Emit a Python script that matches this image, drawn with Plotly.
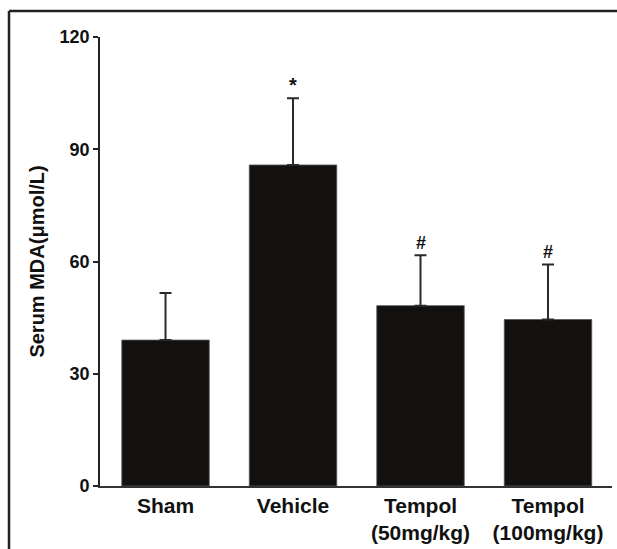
import plotly.graph_objects as go

categories = ["Sham", "Vehicle", "Tempol<br>(50mg/kg)", "Tempol<br>(100mg/kg)"]
means = [39.0, 85.8, 48.2, 44.5]
sd_upper = [12.6, 17.8, 13.5, 14.7]
marks = ["", "*", "#", "#"]
y_ticks = [0, 30, 60, 90, 120]

W, H = 617, 549
ml, mr, mt, mb = 100, 5, 37, 61
pw, ph = W - ml - mr, H - mt - mb

def px_x(px):
    return (px - ml) / pw

def px_y(py):
    return (H - mb - py) / ph

fig = go.Figure()
fig.add_trace(go.Bar(
    x=categories, y=means,
    marker=dict(color="#131110", line=dict(color="#555555", width=0.8)),
    error_y=dict(type="data", symmetric=False, array=sd_upper,
                 arrayminus=[0] * len(means), color="#2a2a2a",
                 thickness=2, width=6),
    showlegend=False,
))

for c, m, s, t in zip(categories, means, sd_upper, marks):
    if t:
        fig.add_annotation(x=c, y=m + s, text="<b>" + t + "</b>", showarrow=False,
                           yanchor="bottom", yshift=0,
                           font=dict(family="Liberation Sans", size=20 if t == "*" else 18,
                                     color="#111"))

# outer frame (top and left edges visible)
fig.add_shape(type="line", xref="paper", yref="paper",
              x0=px_x(9), x1=px_x(640), y0=px_y(11), y1=px_y(11),
              line=dict(color="#222", width=2.5))
fig.add_shape(type="line", xref="paper", yref="paper",
              x0=px_x(9), x1=px_x(9), y0=px_y(11), y1=px_y(580),
              line=dict(color="#222", width=2.5))

fig.update_layout(
    width=W, height=H,
    margin=dict(l=ml, r=mr, t=mt, b=mb),
    paper_bgcolor="white", plot_bgcolor="white",
    bargap=0.314,
    font=dict(family="Liberation Sans", color="#111"),
    xaxis=dict(
        type="category", range=[-0.514, 3.502],
        showline=True, linecolor="#333", linewidth=1.6,
        ticks="", showgrid=False, zeroline=False,
        tickfont=dict(family="Liberation Sans", size=21, color="#111", weight="bold"),
    ),
    yaxis=dict(
        range=[0, 120], tickvals=y_ticks, ticktext=[str(v) for v in y_ticks],
        showline=True, linecolor="#222", linewidth=1.6,
        ticks="outside", ticklen=5, tickwidth=1.6, tickcolor="#222",
        showgrid=False, zeroline=False,
        tickfont=dict(family="Liberation Sans", size=18, color="#111", weight="bold"),
        title=dict(text="Serum MDA(μmol/L)", standoff=10,
                   font=dict(family="Liberation Sans", size=20, color="#111", weight="bold")),
    ),
)

fig.write_html("out.html",
               config={"displayModeBar": False},
               post_script="document.body.style.margin='0';document.body.style.overflow='hidden';")
